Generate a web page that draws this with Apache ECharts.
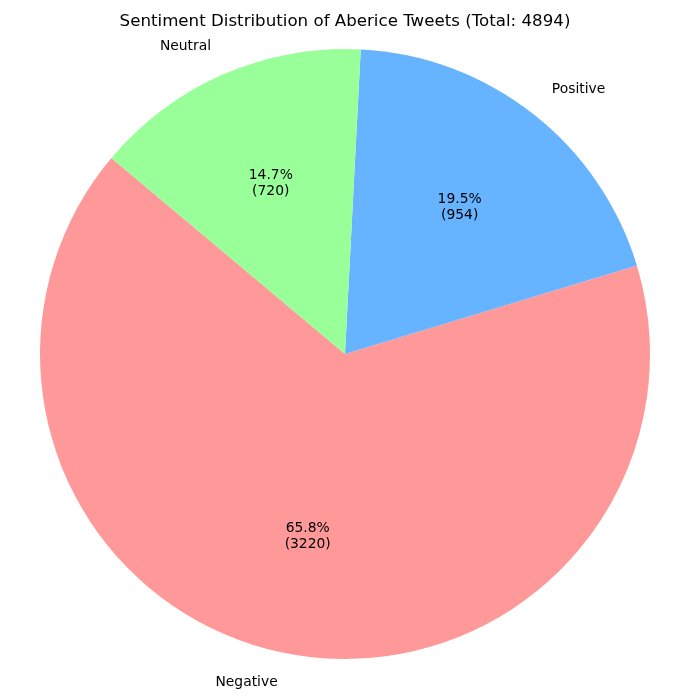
<!DOCTYPE html>
<html>
<head>
<meta charset="utf-8">
<script src="https://cdn.jsdelivr.net/npm/echarts@6/dist/echarts.min.js"></script>
<style>
html,body{margin:0;padding:0;background:#fff;}
#chart{width:690px;height:699px;}
</style>
</head>
<body>
<div id="chart"></div>
<script>
const categories = ['Negative', 'Positive', 'Neutral'];
const counts = [3220, 954, 720];
const colors = ['#ff9999', '#66b3ff', '#99ff99'];
const titleText = 'Sentiment Distribution of Aberice Tweets (Total: 4894)';

const total = counts.reduce((a, b) => a + b, 0);
const data = categories.map((c, i) => ({ name: c, value: counts[i], itemStyle: { color: colors[i] } }));
const R = 305;
const FONT = 'DejaVu Sans';

const chart = echarts.init(document.getElementById('chart'), null, { renderer: 'canvas' });
chart.setOption({
  backgroundColor: '#ffffff',
  animation: false,
  title: {
    text: titleText,
    left: 'center',
    top: 8,
    textStyle: { fontFamily: FONT, fontSize: 16.67, fontWeight: 'normal', color: '#000' }
  },
  series: [
    {
      type: 'pie',
      center: [345, 354],
      radius: [0, R],
      startAngle: 140,
      clockwise: false,
      avoidLabelOverlap: false,
      silent: true,
      data: data,
      label: {
        show: true,
        position: 'outside',
        distanceToLabelLine: 0,
        formatter: '{b}',
        fontFamily: FONT,
        fontSize: 13.89,
        color: '#000'
      },
      labelLine: { show: false, length: R * 0.1, length2: 0 }
    },
    {
      type: 'pie',
      center: [345, 354],
      radius: [0, R * 1.2],
      startAngle: 140,
      clockwise: false,
      avoidLabelOverlap: false,
      silent: true,
      z: 3,
      data: categories.map((c, i) => ({ name: c, value: counts[i] })),
      itemStyle: { color: 'rgba(0,0,0,0)' },
      label: {
        show: true,
        position: 'inside',
        formatter: p => (p.value / total * 100).toFixed(1) + '%\n(' + p.value + ')',
        fontFamily: FONT,
        fontSize: 13.89,
        lineHeight: 16,
        align: 'center',
        color: '#000'
      },
      labelLine: { show: false }
    }
  ]
});
</script>
</body>
</html>
